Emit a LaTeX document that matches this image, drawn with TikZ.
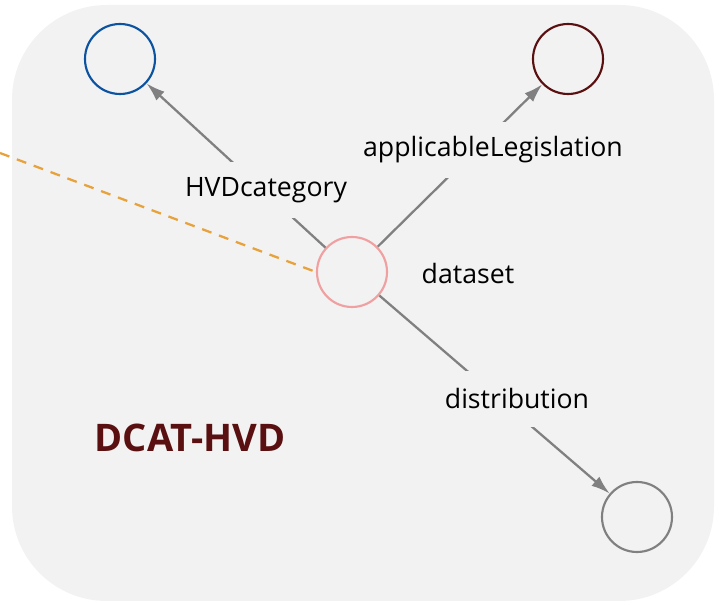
\documentclass[tikz,border=0pt]{standalone}
\usepackage{fontspec}
\setmainfont{Open Sans}
\usepackage{tikz}
\usetikzlibrary{arrows.meta}
\definecolor{bggray}{HTML}{F2F2F2}
\definecolor{catblue}{HTML}{0B52A0}
\definecolor{legred}{HTML}{5A1010}
\definecolor{dspink}{HTML}{F0A0A0}
\definecolor{distgray}{HTML}{808080}
\definecolor{edgegray}{HTML}{808080}
\definecolor{dashorange}{HTML}{E8A23C}
\definecolor{titlered}{HTML}{5A1010}
\begin{document}
\begin{tikzpicture}[x=0.75pt,y=-0.75pt]
\tikzset{>={Latex[width=9pt,length=14pt]}}
\tikzstyle{res} =[circle, draw, line width=1.6pt, inner sep=0pt, minimum size=52.5pt]
\tikzstyle{prop} =[fill=bggray, inner sep=2pt, minimum height=42pt, font=\fontsize{20}{24}\selectfont]
\tikzstyle{link} =[->, line width=1.7pt, color=edgegray]

\useasboundingbox (0,0) rectangle (719,605);
\fill[bggray, rounded corners=71pt] (12,5) rectangle (714,601);

\node[res, draw=catblue](cat) at (120,59){};
\node[res, draw=legred](leg) at (568,59){};
\node[res, draw=dspink](ds) at (352,272){};
\node[res, draw=distgray](dist) at (637,517){};

\coordinate (far) at (0,153);
\draw[dash pattern=on 7.5pt off 6pt, line width=1.7pt, color=dashorange] (far) -- (ds.west);

\draw[link] (ds) -- (cat);
\draw[link] (ds) -- (leg);
\draw[link] (ds) -- (dist);

\node[prop](catlbl) at (266,190){HVDcategory};
\node[prop](leglbl) at (493,150){applicableLegislation};
\node[prop](distlbl) at (517,399){distribution};
\node[font=\fontsize{20}{24}\selectfont](dslbl) at (468,274){dataset};

\node[text=titlered, font=\fontsize{28.5}{34}\selectfont\bfseries](title) at (190,438){DCAT-HVD};
\end{tikzpicture}
\end{document}
